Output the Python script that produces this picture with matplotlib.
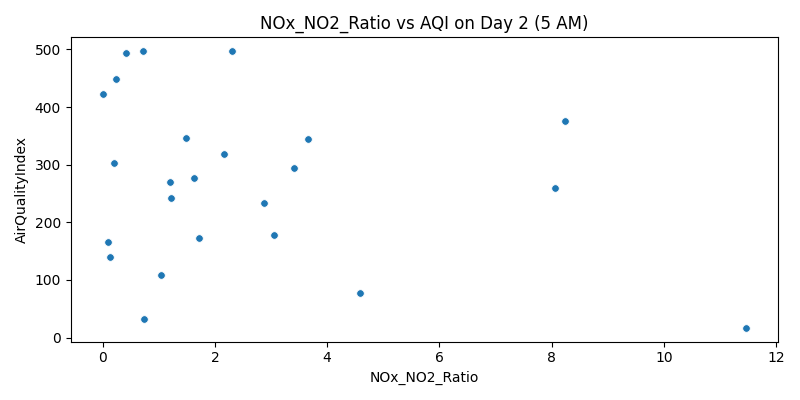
import matplotlib
matplotlib.use("Agg")
import matplotlib.pyplot as plt

ratio = [0.0, 0.23, 0.41, 0.71, 2.30, 0.20, 0.09, 0.12, 0.73, 1.03, 1.19, 1.21,
         1.48, 1.62, 1.71, 2.16, 2.87, 3.05, 3.40, 3.65, 4.58, 8.24, 8.06, 11.46]
aqi = [422, 448, 493, 497, 497, 303, 166, 140, 33, 109, 270, 242,
       346, 277, 173, 318, 234, 178, 294, 344, 78, 375, 260, 17]

fig, ax = plt.subplots(figsize=(8, 4), dpi=100)
ax.scatter(ratio, aqi, s=30, color="#1f77b4", edgecolor="white", linewidth=0.6)
ax.set_xlabel("NOx_NO2_Ratio")
ax.set_ylabel("AirQualityIndex")
ax.set_title("NOx_NO2_Ratio vs AQI on Day 2 (5 AM)")
ax.set_xticks([0, 2, 4, 6, 8, 10, 12])
ax.set_yticks([0, 100, 200, 300, 400, 500])
fig.tight_layout()
fig.savefig("out.png")
